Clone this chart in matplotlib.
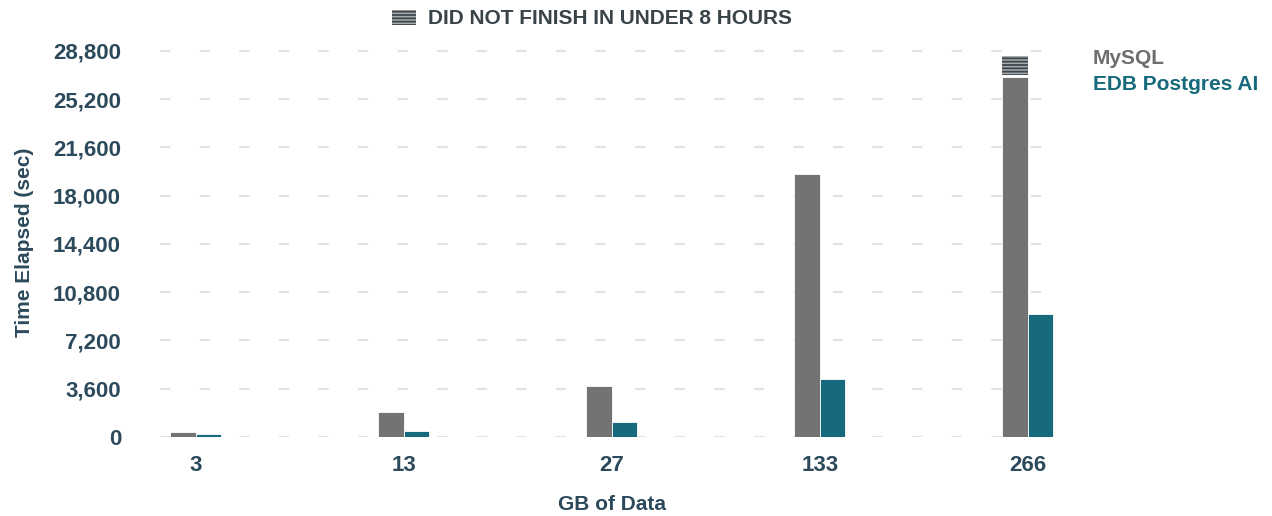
import matplotlib.pyplot as plt
import numpy as np
from matplotlib.patches import Rectangle

plt.rcParams['font.family'] = ['Liberation Sans', 'DejaVu Sans']
plt.rcParams['hatch.linewidth'] = 1.3

categories = ["3", "13", "27", "133", "266"]
mysql = [370, 1870, 3780, 19650, 26850]
edb = [190, 450, 1120, 4310, 9160]
# last MySQL run did not finish: hatched cap on top
dnf_bottom = 27000
dnf_top = 28400
yticks = [0, 3600, 7200, 10800, 14400, 18000, 21600, 25200, 28800]

grey = "#737373"
teal = "#176a7c"
text_col = "#2c4a5b"
grid_col = "#dde3e7"
hatch_face = "#a9abad"
hatch_line = "#3b474d"

fig = plt.figure(figsize=(12.72, 5.16), dpi=100)
ax = fig.add_axes([160/1272, 1 - 437/516, 905/1272, 388.7/516])

x = np.arange(len(categories))
w = 0.1226
ax.bar(x - w/2, mysql, w, color=grey, edgecolor="white", linewidth=0.6, zorder=3)
ax.bar(x + w/2, edb, w, color=teal, edgecolor="white", linewidth=0.6, zorder=3)
ax.bar(x[-1] - w/2, dnf_top - dnf_bottom, w, bottom=dnf_bottom,
       color=hatch_face, edgecolor=hatch_line, hatch="-----", linewidth=0, zorder=3)

ax.set_xlim(-0.173, 4.178)
ax.set_ylim(0, 29000)
ax.set_yticks(yticks)
ax.set_yticklabels([f"{v:,}" for v in yticks])
ax.set_xticks(x)
ax.set_xticklabels(categories)
ax.tick_params(axis="both", length=0, labelsize=16, labelcolor=text_col)
ax.tick_params(axis="y", pad=28)
ax.tick_params(axis="x", pad=13)
for lab in ax.get_xticklabels() + ax.get_yticklabels():
    lab.set_fontweight("bold")
for s in ax.spines.values():
    s.set_visible(False)
ax.grid(axis="y", color=grid_col, linewidth=1.5, linestyle=(0, (5, 14)), zorder=0)
ax.set_axisbelow(True)

ax.set_xlabel("GB of Data", fontsize=15, fontweight="bold", color=text_col, labelpad=14)
ax.set_ylabel("Time Elapsed (sec)", fontsize=15, fontweight="bold", color=text_col, labelpad=14)

# title with hatch icon
fig.add_artist(Rectangle((392/1272, 1 - 25/516), 24/1272, 15/516, transform=fig.transFigure,
                         facecolor=hatch_face, edgecolor=hatch_line, hatch="-----", linewidth=0))
fig.text(428/1272, 1 - 18/516, "DID NOT FINISH IN UNDER 8 HOURS", fontsize=15, fontweight="bold",
         color="#3a4448", va="center", ha="left")

# legend as coloured text
fig.text(1093/1272, 1 - 58/516, "MySQL", fontsize=15, fontweight="bold", color="#6e6e6e", va="center")
fig.text(1093/1272, 1 - 84/516, "EDB Postgres AI", fontsize=15, fontweight="bold", color=teal, va="center")

fig.savefig("out.png", dpi=100)
